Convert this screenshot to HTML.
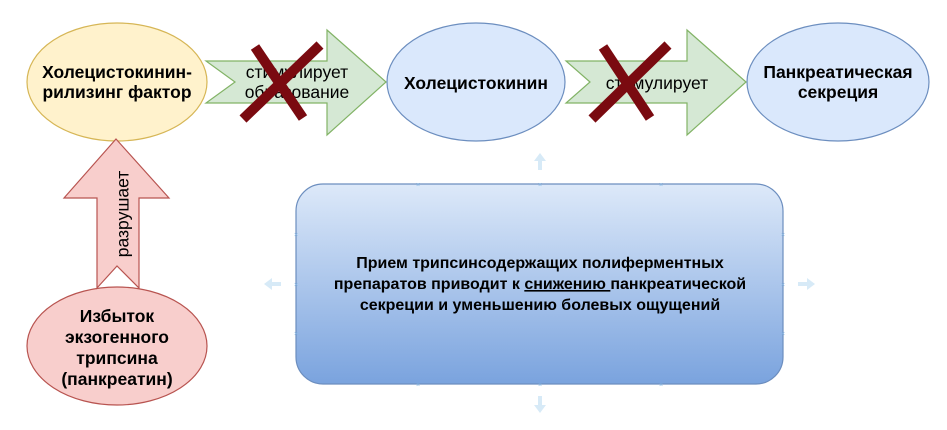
<!DOCTYPE html>
<html><head><meta charset="utf-8"><style>
html,body{margin:0;padding:0;background:#fff;}
svg{display:block;}
text{font-family:"Liberation Sans",sans-serif;fill:#000;}
.b{font-weight:bold;font-size:17.5px;}
.n{font-size:17.5px;}
.bx{font-weight:bold;font-size:16px;}
</style></head><body>
<svg width="947" height="430" viewBox="0 0 947 430" xmlns="http://www.w3.org/2000/svg">
<defs>
<linearGradient id="g" x1="0" y1="0" x2="0" y2="1">
<stop offset="0" stop-color="#dde9f9"/>
<stop offset="1" stop-color="#7aa3de"/>
</linearGradient>
</defs>
<ellipse cx="117" cy="82" rx="90" ry="59" fill="#fff2cc" stroke="#d6b656" stroke-width="1.2"/>
<ellipse cx="476" cy="82" rx="89" ry="59" fill="#dae8fc" stroke="#6c8ebf" stroke-width="1.2"/>
<ellipse cx="838" cy="82" rx="91" ry="59" fill="#dae8fc" stroke="#6c8ebf" stroke-width="1.2"/>
<ellipse cx="117" cy="346" rx="90" ry="59" fill="#f8cecc" stroke="#b85450" stroke-width="1.2"/>
<polygon points="206,61 327,61 327,30 386,82 327,135 327,103 206,103 235,82" fill="#d5e8d4" stroke="#82b366" stroke-width="1.2"/>
<polygon points="566,61 687,61 687,30 746,82 687,135 687,103 566,103 590,82" fill="#d5e8d4" stroke="#82b366" stroke-width="1.2"/>
<polygon points="116,139 169,198 139,198 139,288 117,266 97,288 97,198 64,198" fill="#f8cecc" stroke="#b85450" stroke-width="1.2"/>
<text class="n" transform="translate(124,214) rotate(-90)" text-anchor="middle" dominant-baseline="middle">разрушает</text>
<text class="b" x="117" y="78" text-anchor="middle">Холецистокинин-</text>
<text class="b" x="117" y="98" text-anchor="middle">рилизинг фактор</text>
<text class="n" x="297" y="78" text-anchor="middle">стимулирует</text>
<text class="n" x="297" y="98" text-anchor="middle">образование</text>
<text class="b" x="476" y="89" text-anchor="middle">Холецистокинин</text>
<text class="n" x="657" y="89" text-anchor="middle">стимулирует</text>
<text class="b" x="838" y="78" text-anchor="middle">Панкреатическая</text>
<text class="b" x="838" y="98" text-anchor="middle">секреция</text>
<text class="b" x="117" y="322" text-anchor="middle">Избыток</text>
<text class="b" x="117" y="343" text-anchor="middle">экзогенного</text>
<text class="b" x="117" y="364" text-anchor="middle">трипсина</text>
<text class="b" x="117" y="385" text-anchor="middle">(панкреатин)</text>
<g stroke="#7a0a10" stroke-width="10" stroke-linecap="butt">
<line x1="243" y1="119" x2="320" y2="45"/>
<line x1="255" y1="47" x2="303" y2="118"/>
<line x1="592" y1="119" x2="668" y2="45"/>
<line x1="603" y1="47" x2="650" y2="118"/>
</g>
<rect x="296" y="184" width="487" height="200" rx="27" ry="27" fill="url(#g)" stroke="#6c8ebf" stroke-width="1.2"/>
<text class="bx" x="540" y="268" text-anchor="middle">Прием трипсинсодержащих полиферментных</text>
<text class="bx" x="540" y="289" text-anchor="middle">препаратов приводит к <tspan text-decoration="underline">снижению </tspan>панкреатической</text>
<text class="bx" x="540" y="310" text-anchor="middle">секреции и уменьшению болевых ощущений</text>
<g fill="#d7eaf7">
<polygon points="540,153 546,161 542,161 542,170 538,170 538,161 534,161"/>
<polygon points="540,413 546,405 542,405 542,396 538,396 538,405 534,405"/>
<polygon points="264,284 272,278 272,282 281,282 281,286 272,286 272,290"/>
<polygon points="815,284 807,278 807,282 798,282 798,286 807,286 807,290"/>
</g>
<g font-size="7">
<text x="418" y="187" text-anchor="middle" style="fill:#7fb2e0">×</text>
<text x="540" y="187" text-anchor="middle" style="fill:#7fb2e0">×</text>
<text x="661" y="187" text-anchor="middle" style="fill:#7fb2e0">×</text>
<text x="418" y="387" text-anchor="middle" style="fill:#7fb2e0">×</text>
<text x="540" y="387" text-anchor="middle" style="fill:#7fb2e0">×</text>
<text x="661" y="387" text-anchor="middle" style="fill:#7fb2e0">×</text>
<text x="296" y="237" text-anchor="middle" style="fill:#7fb2e0">×</text>
<text x="296" y="287" text-anchor="middle" style="fill:#7fb2e0">×</text>
<text x="296" y="336" text-anchor="middle" style="fill:#7fb2e0">×</text>
<text x="783" y="237" text-anchor="middle" style="fill:#7fb2e0">×</text>
<text x="783" y="287" text-anchor="middle" style="fill:#7fb2e0">×</text>
<text x="783" y="336" text-anchor="middle" style="fill:#7fb2e0">×</text>
</g>
</svg>
</body></html>
